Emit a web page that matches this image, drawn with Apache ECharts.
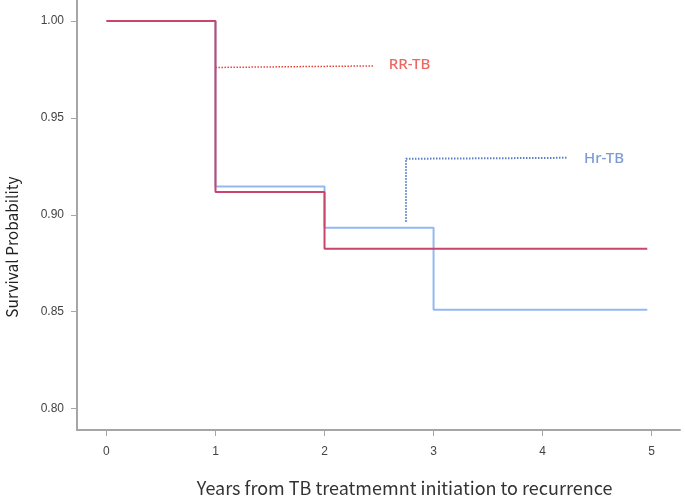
<!DOCTYPE html>
<html><head><meta charset="utf-8">
<script src="https://cdn.jsdelivr.net/npm/echarts@6/dist/echarts.min.js"></script>
<style>html,body{margin:0;padding:0;background:#fff}#c{width:685px;height:498px}</style>
</head><body><div id="c"></div>
<script>
// Kaplan-Meier steps (years, survival probability)
const rrTime = [0, 1, 2, 4.96];
const rrSurv = [1.0, 0.9117, 0.8825, 0.8825];
const hrTime = [0, 1, 2, 3, 4.96];
const hrSurv = [1.0, 0.9146, 0.8933, 0.851, 0.851];
// leader lines for the labels
const rrLeaderX = [1.0, 2.445];
const rrLeaderY = [0.976, 0.9768];
const hrLeaderX = [2.747, 2.747, 4.22];
const hrLeaderY = [0.8964, 0.9289, 0.9294];
const labelNames = ['RR-TB', 'Hr-TB'];
const labelX = [2.59, 4.38];
const labelY = [0.9773, 0.929];
const xTicks = [0, 1, 2, 3, 4, 5];
const yTicks = [0.80, 0.85, 0.90, 0.95, 1.00];

const zip = (a, b) => a.map((v, i) => [v, b[i]]);
const chart = echarts.init(document.getElementById('c'));
const axisGray = '#a6a6a6';
chart.setOption({
  animation: false,
  grid: { left: 77, right: 5, top: 0, bottom: 68, outerBoundsMode: 'none', containLabel: false },
  xAxis: {
    type: 'value', min: -0.27, max: 5.26,
    name: 'Years from TB treatmemnt initiation to recurrence',
    nameLocation: 'middle', nameGap: 49,
    nameTextStyle: { fontSize: 18, color: '#333', fontFamily: 'Noto Sans CJK SC', padding: [0, 0, 0, 52] },
    axisLine: { onZero: false, lineStyle: { color: axisGray, width: 2 } },
    axisTick: { show: true, length: 6, lineStyle: { color: axisGray }, customValues: xTicks },
    axisLabel: {
      fontSize: 12, color: '#444', margin: 16, fontFamily: 'Liberation Sans Narrow, Liberation Sans',
      customValues: xTicks
    },
    splitLine: { show: false }
  },
  yAxis: {
    type: 'value', min: 0.789, max: 1.0108,
    name: 'Survival Probability', nameLocation: 'middle', nameGap: 57,
    nameTextStyle: { fontSize: 15.5, color: '#222', fontFamily: 'Noto Sans CJK SC', padding: [0, 64, 0, 0] },
    axisLine: { show: true, onZero: false, lineStyle: { color: axisGray, width: 2 } },
    axisTick: { show: true, length: 6, lineStyle: { color: axisGray }, customValues: yTicks },
    axisLabel: { fontSize: 12, color: '#444', margin: 13, fontFamily: 'Liberation Sans',
      customValues: yTicks, formatter: v => v.toFixed(2) },
    splitLine: { show: false }
  },
  series: [
    { type: 'line', step: 'end', data: zip(hrTime, hrSurv), symbol: 'none',
      lineStyle: { color: '#94b8ef', width: 2 }, z: 2 },
    { type: 'line', step: 'end', data: zip(rrTime, rrSurv), symbol: 'none',
      lineStyle: { color: '#c9466b', width: 2 }, z: 3 },
    { type: 'line', data: zip(rrLeaderX, rrLeaderY), symbol: 'none',
      lineStyle: { color: '#e8423a', width: 1.5, type: [1.5, 1.5] } },
    { type: 'line', data: zip(hrLeaderX, hrLeaderY), symbol: 'none',
      lineStyle: { color: '#5a7ec8', width: 2, type: [1.5, 1.5] } },
    { type: 'scatter', symbolSize: 0,
      data: labelNames.map((n, i) => ({ value: [labelX[i], labelY[i]], name: n,
        label: { color: i === 0 ? '#e8403a' : '#5b7fc7' } })),
      label: { show: true, position: 'right', distance: 0, formatter: p => p.name,
        fontSize: 15, fontFamily: 'Noto Sans', fontWeight: 500 } }
  ]
});
</script></body></html>
